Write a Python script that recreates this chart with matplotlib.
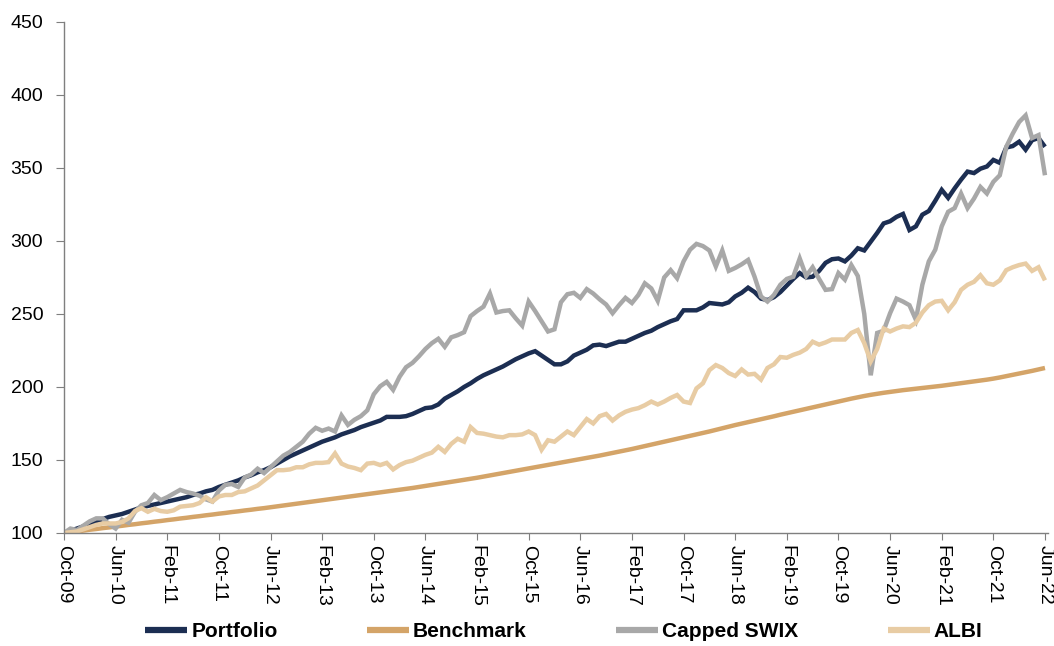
import matplotlib
matplotlib.use("Agg")
import matplotlib.pyplot as plt
from matplotlib import font_manager
import numpy as np

# ---------------- data (monthly, Oct-09 .. Jun-22) ----------------
tick_labels = ["Oct-09", "Jun-10", "Feb-11", "Oct-11", "Jun-12", "Feb-13", "Oct-13",
               "Jun-14", "Feb-15", "Oct-15", "Jun-16", "Feb-17", "Oct-17", "Jun-18",
               "Feb-19", "Oct-19", "Jun-20", "Feb-21", "Oct-21", "Jun-22"]

portfolio = [100, 101.5, 103, 104.5, 106.5, 108, 109.5, 111, 112, 113,
             114.5, 116, 117.5, 118.5, 119.5, 120.5, 121.5, 122.5, 123.5, 124.5,
             126, 127, 128.5, 129.5, 131.5, 133, 134.5, 136, 138, 139.5,
             141.5, 143, 145, 147.5, 150, 152.5, 154.5, 156.5, 158.5, 160.5,
             162.5, 164, 165.5, 167.5, 169, 170.5, 172.5, 174, 175.5, 177,
             179.5, 179.5, 179.5, 180, 181.5, 183.5, 185.5, 186, 188, 192,
             194.5, 197, 200, 202.5, 205.5, 208, 210, 212, 214, 216.5,
             219, 221, 223, 224.5, 221.5, 218.5, 215.5, 215.5, 217.5, 221.5,
             223.5, 225.5, 228.5, 229, 228, 229.5, 231, 231, 233, 235,
             237, 238.5, 241, 243, 245, 246.5, 252.5, 252.5, 252.5, 254.5,
             257.5, 257, 256.5, 258, 262, 264.5, 268, 265, 260.5, 259.5,
             261.5, 265, 269.5, 274, 278, 275, 275.5, 279.5, 285, 287.5,
             288, 286, 290, 295, 293.5, 299.5, 305.5, 312, 313.5, 316.5,
             318.5, 307.5, 310, 318, 320.5, 327.5, 335, 329.5, 336, 342,
             347.5, 346.5, 349.5, 351, 355.5, 353.5, 364, 365, 368, 362.5,
             369, 370.5, 364.5]

benchmark = [100.0, 100.5, 101.1, 101.6, 102.2, 102.7, 103.3, 103.8, 104.4, 104.9,
             105.5, 106.0, 106.6, 107.1, 107.7, 108.2, 108.8, 109.3, 109.9, 110.4,
             111.0, 111.5, 112.1, 112.6, 113.2, 113.7, 114.3, 114.8, 115.4, 115.9,
             116.5, 117.0, 117.6, 118.2, 118.8, 119.4, 120.0, 120.6, 121.2, 121.8,
             122.4, 123.0, 123.6, 124.2, 124.8, 125.4, 126.0, 126.6, 127.2, 127.8,
             128.4, 129.0, 129.6, 130.2, 130.8, 131.5, 132.2, 132.9, 133.6, 134.3,
             135.0, 135.7, 136.4, 137.1, 137.8, 138.6, 139.4, 140.2, 141.0, 141.8,
             142.6, 143.4, 144.2, 145.0, 145.8, 146.6, 147.4, 148.2, 149.0, 149.8,
             150.6, 151.4, 152.2, 153.0, 153.9, 154.8, 155.7, 156.6, 157.5, 158.5,
             159.5, 160.5, 161.5, 162.5, 163.5, 164.5, 165.5, 166.5, 167.5, 168.5,
             169.5, 170.6, 171.7, 172.8, 173.9, 174.9, 175.9, 176.9, 177.9, 178.9,
             179.9, 181.0, 182.0, 183.0, 184.0, 185.0, 186.0, 187.0, 188.0, 189.0,
             190.0, 191.0, 192.0, 192.9, 193.8, 194.6, 195.3, 196.0, 196.6, 197.2,
             197.8, 198.3, 198.8, 199.3, 199.8, 200.3, 200.8, 201.4, 202.0, 202.6,
             203.2, 203.8, 204.4, 205.0, 205.7, 206.5, 207.4, 208.3, 209.2, 210.1,
             211.0, 212.0, 213.0]

capped_swix = [100, 103, 102, 105, 108, 110, 110, 106, 103, 109,
               107, 114.5, 119, 120.5, 126, 122.5, 124.5, 127, 129.5, 128,
               127, 125.5, 123, 121.5, 129, 133, 133.5, 131.5, 138, 140,
               144, 141, 145, 149, 153, 155.5, 159, 162.5, 168, 172,
               170, 171.5, 169.5, 180.5, 174, 177.5, 180, 184, 195, 200.5,
               203.5, 198, 207, 213.5, 216.5, 221, 226, 230, 233, 227.5,
               234, 235.5, 237.5, 248.5, 252, 255, 264, 251, 252, 252.5,
               247, 242, 258.5, 252, 245, 238, 239.5, 258, 263.5, 264.5,
               261, 267, 264, 260, 256.5, 250.5, 256, 261, 257.5, 263,
               271, 267.5, 259, 275, 280, 274.5, 286, 294, 298, 296.5,
               293.5, 282.5, 293.5, 279.5, 281.5, 284, 287, 275.5, 262, 258.5,
               263, 270, 274, 275.5, 288, 276, 282, 274, 266.5, 267,
               278, 273.5, 283.5, 276, 250, 208, 237, 238.5, 250.5, 260.5,
               258.5, 256, 246, 270, 286, 294, 310, 320, 322.5, 332.5,
               322.5, 329, 337, 332.5, 340.5, 345, 364.5, 373.5, 381.5, 386,
               370.5, 372.5, 345]

albi = [100, 100.5, 101, 102.5, 104, 105.5, 106.5, 106.5, 106.5, 107.5,
        110, 115, 117, 114.5, 116.5, 115, 114.5, 115.5, 118, 118.5,
        119, 120.5, 124.5, 121.5, 125, 126, 126, 128, 128.5, 130.5,
        132.5, 136, 139.5, 143, 143, 143.5, 145, 145, 147, 148,
        148, 148.5, 154.5, 147.5, 145.5, 144.5, 143, 147.5, 148, 146.5,
        148, 143.5, 146.5, 148.5, 149.5, 151.5, 153.5, 155, 159, 155.5,
        161, 164.5, 162.5, 172.5, 168.5, 168, 167, 166, 165.5, 167,
        167, 167.5, 169.5, 167, 157, 163.5, 162.5, 166, 169.5, 167,
        172.5, 178, 175, 180, 181.5, 177, 180.5, 183, 184.5, 185.5,
        187.5, 190, 188, 190, 192.5, 194.5, 190, 189, 199, 202.5,
        211.5, 215, 213, 209.5, 207.5, 212, 208.5, 209, 205, 213,
        215.5, 220.5, 220, 222, 223.5, 226, 231, 229, 230.5, 232.5,
        232.5, 232.5, 237, 239, 230, 217.5, 226, 240, 238, 240,
        241.5, 241, 244, 251, 256, 258.5, 259, 252.5, 258, 266.5,
        270, 272, 276.5, 271, 270, 273, 280, 282, 283.5, 284.5,
        279.5, 282, 273]

series_names = ["Portfolio", "Benchmark", "Capped SWIX", "ALBI"]

# ---------------- styling ----------------
colors = {"Portfolio": "#1c2e52", "Benchmark": "#d4a468",
          "Capped SWIX": "#a8a8a8", "ALBI": "#e8cca4"}

available = {f.name for f in font_manager.fontManager.ttflist}
base_font = "Liberation Sans" if "Liberation Sans" in available else "DejaVu Sans"
plt.rcParams["font.family"] = [base_font, "DejaVu Sans"]

fig = plt.figure(figsize=(10.54, 6.46), dpi=100)
ax = fig.add_axes([0.0607, 0.175, 0.9338, 0.791])

x = np.arange(len(portfolio))
data = {"Portfolio": portfolio, "Benchmark": benchmark,
        "Capped SWIX": capped_swix, "ALBI": albi}
lines = {}
for name in series_names:
    ln, = ax.plot(x, data[name], color=colors[name], lw=3.2,
                  solid_joinstyle="miter", solid_capstyle="butt", label=name)
    lines[name] = ln

ax.set_xlim(0, len(portfolio) - 0.5)
ax.set_ylim(100, 450)
ax.set_yticks(np.arange(100, 451, 50))
ax.set_xticks(np.arange(0, len(portfolio), 8))
ax.set_xticklabels(tick_labels, rotation=270, fontsize=14)
ax.tick_params(axis="y", labelsize=14, length=6, color="#7f7f7f", pad=9)
ax.tick_params(axis="x", length=5, color="#7f7f7f", pad=4)

for s in ["top", "right"]:
    ax.spines[s].set_visible(False)
for s in ["left", "bottom"]:
    ax.spines[s].set_color("#7f7f7f")
    ax.spines[s].set_linewidth(1.0)

handles = [lines[n] for n in series_names]
leg = fig.legend(handles, series_names, loc="center", ncol=4,
                 bbox_to_anchor=(0.535, 0.022), frameon=False,
                 prop={"family": base_font, "weight": "bold", "size": 15},
                 handlelength=2.0, handletextpad=0.2, columnspacing=4.3,
                 borderpad=0.1)
for lh in leg.get_lines():
    lh.set_linewidth(4.5)

fig.savefig("out.png", dpi=100)
